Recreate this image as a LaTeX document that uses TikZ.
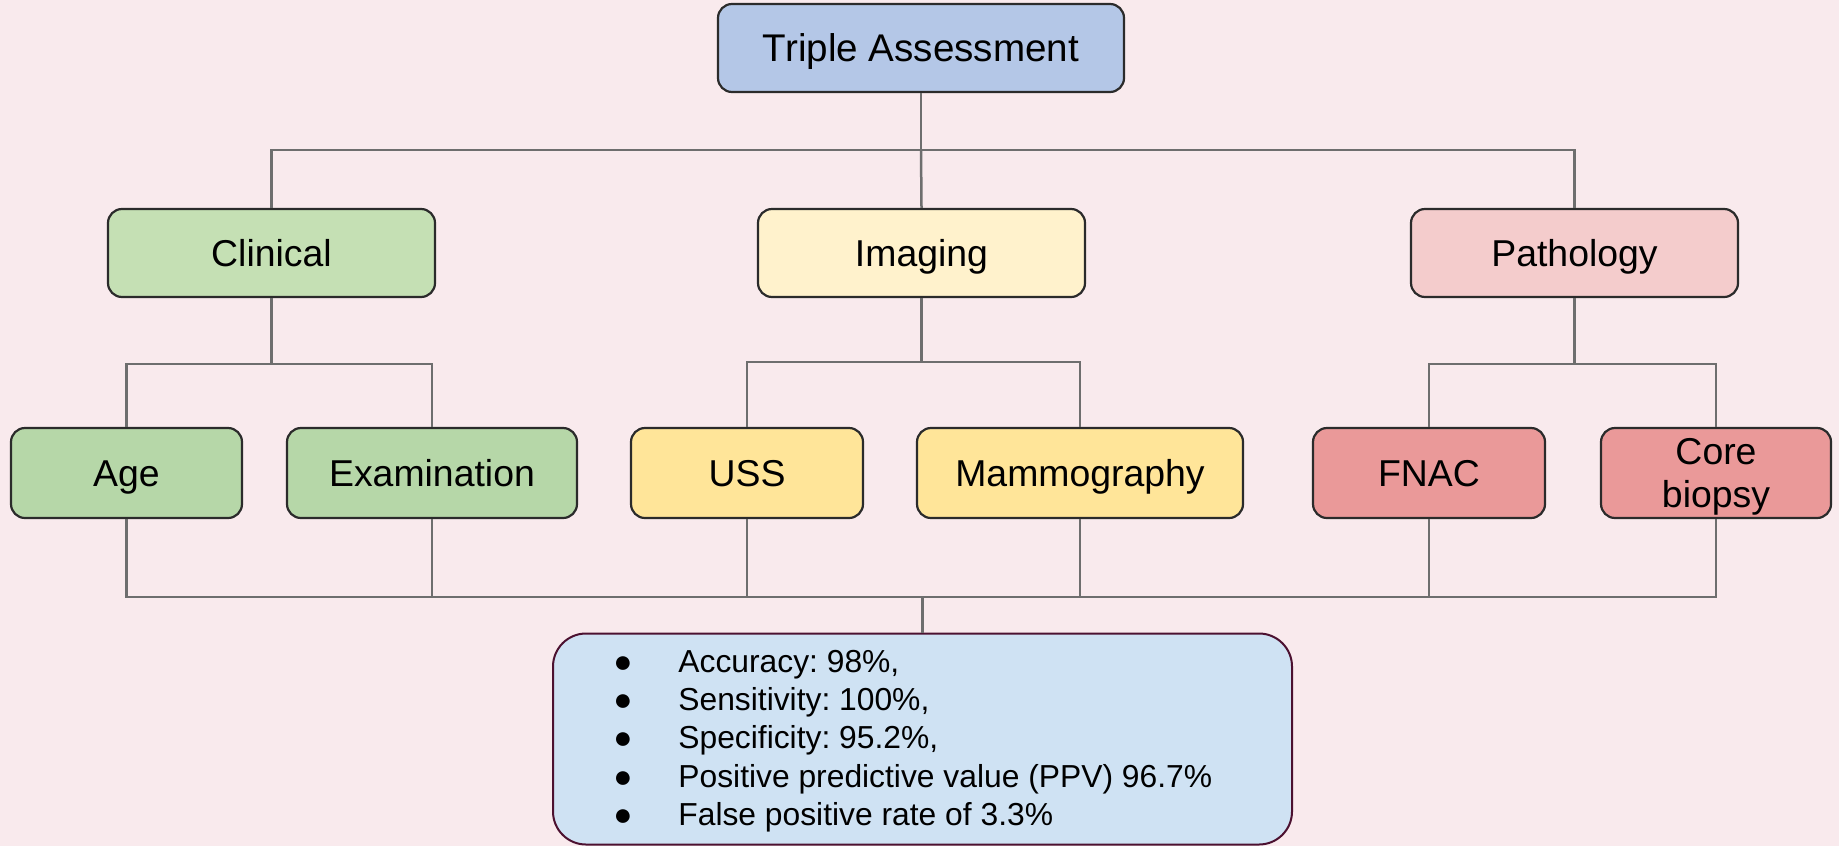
\documentclass[tikz,border=0pt]{standalone}
\usepackage{fontspec}
\setmainfont{Liberation Sans}
\frenchspacing
\definecolor{bgc}{HTML}{F9EAED}
\definecolor{boxline}{HTML}{2B2B2B}
\definecolor{connc}{HTML}{6E6E6E}
\definecolor{cTop}{HTML}{B4C7E7}
\definecolor{cClin}{HTML}{C5E0B4}
\definecolor{cClinB}{HTML}{B6D7A8}
\definecolor{cImg}{HTML}{FFF2CC}
\definecolor{cImgB}{HTML}{FFE599}
\definecolor{cPath}{HTML}{F4CCCC}
\definecolor{cPathB}{HTML}{EA9999}
\definecolor{resfill}{HTML}{CFE2F3}
\definecolor{resline}{HTML}{4C1130}
\begin{document}
\begin{tikzpicture}[x=0.5pt,y=-0.5pt,
  box/.style={draw=boxline, line width=1.1pt, rounded corners=7pt, inner sep=0pt,
    text height=13.4pt, text depth=0pt, minimum height=45pt,
    font=\fontsize{18.7pt}{21.5pt}\selectfont},
  lvlone/.style={box, minimum height=44pt, minimum width=163.5pt},
  conn/.style={draw=connc, line width=1.25pt},
  restext/.style={anchor=base west, inner sep=0pt, font=\fontsize{15.9pt}{19pt}\selectfont},
  resbullet/.style={anchor=base, inner sep=0pt, font=\fontsize{15.9pt}{19pt}\selectfont},
  boxtext/.style={anchor=base, inner sep=0pt, font=\fontsize{18.7pt}{21.5pt}\selectfont}]
\useasboundingbox[fill=bgc] (0,0) rectangle (1839,846);

% nodes
\node[box, fill=cTop, minimum width=203pt, minimum height=44pt, text height=13.8pt,
      font=\fontsize{19.3pt}{22pt}\selectfont] (top) at (921,48) {Triple Assessment};
\node[lvlone, fill=cClin] (clin) at (271.5,253) {Clinical};
\node[lvlone, fill=cImg] (img) at (921.5,253) {Imaging};
\node[lvlone, fill=cPath] (path) at (1574.5,253) {Pathology};

\node[box, fill=cClinB, minimum width=115.5pt] (age) at (126.5,473) {Age};
\node[box, fill=cClinB, minimum width=145pt] (exam) at (432,473) {Examination};
\node[box, fill=cImgB, minimum width=116pt] (uss) at (747,473) {USS};
\node[box, fill=cImgB, minimum width=163pt] (mammo) at (1080,473) {Mammography};
\node[box, fill=cPathB, minimum width=116pt] (fnac) at (1429,473) {FNAC};
\node[box, fill=cPathB, minimum width=115pt] (core) at (1716,473) {};
\node[boxtext] (coreA) at (1716,464) {Core};
\node[boxtext] (coreB) at (1716,507) {biopsy};

\node[draw=resline, line width=1pt, fill=resfill, rounded corners=16.5pt,
      minimum width=369.5pt, minimum height=105.5pt, inner sep=0pt] (res) at (922.5,739) {};
\node[resbullet] (b1) at (623,672) {●};
\node[resbullet] (b2) at (623,710) {●};
\node[resbullet] (b3) at (623,748) {●};
\node[resbullet] (b4) at (623,787) {●};
\node[resbullet] (b5) at (623,825) {●};
\node[restext] (t1) at (678,672) {Accuracy: 98\%,};
\node[restext] (t2) at (678,710) {Sensitivity: 100\%,};
\node[restext] (t3) at (678,748) {Specificity: 95.2\%,};
\node[restext] (t4) at (678,787) {Positive predictive value (PPV) 96.7\%};
\node[restext] (t5) at (678,825) {False positive rate of 3.3\%};

% connectors
\coordinate (bus1) at (921,150);
\draw[conn] (top.south) -- (bus1);
\draw[conn] (clin.north) |- (bus1) -| (path.north);
\draw[conn] (bus1) -- (img.north);

\coordinate (busC) at (271.5,364);
\draw[conn] (clin.south) -- (busC);
\draw[conn] (age.north) |- (busC) -| (exam.north);

\coordinate (busI) at (921.5,362);
\draw[conn] (img.south) -- (busI);
\draw[conn] (uss.north) |- (busI) -| (mammo.north);

\coordinate (busP) at (1574.5,364);
\draw[conn] (path.south) -- (busP);
\draw[conn] (fnac.north) |- (busP) -| (core.north);

\coordinate (busB) at (922.5,597);
\draw[conn] (age.south) |- (busB) -| (core.south);
\draw[conn] (exam.south) -- (exam.south |- busB);
\draw[conn] (uss.south) -- (uss.south |- busB);
\draw[conn] (mammo.south) -- (mammo.south |- busB);
\draw[conn] (fnac.south) -- (fnac.south |- busB);
\draw[conn] (busB) -- (res.north);
\end{tikzpicture}
\end{document}
